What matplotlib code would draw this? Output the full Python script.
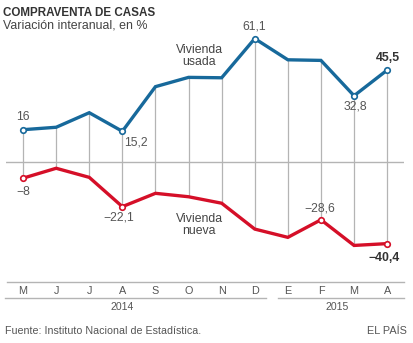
import matplotlib
matplotlib.use("Agg")
import matplotlib.pyplot as plt
import matplotlib.transforms as mtransforms

plt.rcParams['font.family'] = ['Liberation Sans', 'DejaVu Sans']

months = ["M", "J", "J", "A", "S", "O", "N", "D", "E", "F", "M", "A"]
years = ["2014", "2015"]
usada = [16.0, 17.2, 24.4, 15.2, 37.3, 41.9, 41.7, 61.1, 50.6, 50.3, 32.8, 45.5]
nueva = [-8.0, -3.1, -7.6, -22.1, -15.5, -17.2, -20.4, -33.2, -37.3, -28.6, -41.3, -40.4]

BLUE = "#17699b"
RED = "#d50f28"
GRAY_TXT = "#555555"
GRID = "#b4b4b4"

W, H = 414, 343
fig = plt.figure(figsize=(W / 100, H / 100), dpi=100)

def fx(px):
    return px / W

def fy(py):
    return 1 - py / H

ax = fig.add_axes([fx(6.5), fy(282), fx(403.7 - 6.5), fy(20) - fy(282)])
x = list(range(len(months)))
ax.set_xlim(-0.5, len(months) - 0.5)
ax.set_ylim(-59.4, 70.3)

# vertical connectors
ax.vlines(x, nueva, usada, color=GRID, lw=0.9, zorder=1)
ax.axhline(0, color=GRID, lw=1.0, zorder=1)

ax.plot(x, usada, color=BLUE, lw=2.4, solid_joinstyle='miter', zorder=3)
ax.plot(x, nueva, color=RED, lw=2.4, solid_joinstyle='miter', zorder=3)

mk_u = [0, 3, 7, 10, 11]
mk_n = [0, 3, 9, 11]
ax.plot([x[i] for i in mk_u], [usada[i] for i in mk_u], 'o', ms=4, mfc='white',
        mec=BLUE, mew=1.2, ls='none', zorder=4)
ax.plot([x[i] for i in mk_n], [nueva[i] for i in mk_n], 'o', ms=4, mfc='white',
        mec=RED, mew=1.2, ls='none', zorder=4)

def fmt(v):
    s = ("%g" % abs(v)).replace(".", ",")
    return ("\u2212" + s) if v < 0 else s

LFS = 8.8

def lab(i, vals, dx, dy, ha='center', bold=False):
    ax.annotate(fmt(vals[i]), (x[i], vals[i]), xytext=(dx * 0.72, dy * 0.72),
                textcoords='offset points', ha=ha, va='center', fontsize=LFS,
                color='#333333' if bold else GRAY_TXT,
                fontweight='bold' if bold else 'normal', zorder=5)

lab(0, usada, 0, 13)
lab(3, usada, 2, -11, ha='left')
lab(7, usada, -1, 12)
lab(10, usada, 1, -11)
lab(11, usada, 1, 12, bold=True)
lab(0, nueva, 0, -14)
lab(3, nueva, -4, -11)
lab(9, nueva, -1, 11)
lab(11, nueva, -3, -14, bold=True)

ax.text(5.32, 52.5, "Vivienda\nusada", ha='center', va='center', fontsize=LFS,
        color='#444444', linespacing=1.05, zorder=5)
ax.text(5.32, -31.2, "Vivienda\nnueva", ha='center', va='center', fontsize=LFS,
        color='#444444', linespacing=1.05, zorder=5)

# axes styling
for s in ['top', 'right', 'left']:
    ax.spines[s].set_visible(False)
ax.spines['bottom'].set_color(GRID)
ax.spines['bottom'].set_linewidth(1.0)
ax.set_yticks([])
ax.set_xticks(x)
ax.set_xticklabels(months, fontsize=7.8, color=GRAY_TXT)
ax.tick_params(axis='x', length=0, pad=3)

# year brackets
trans = mtransforms.blended_transform_factory(ax.transData, fig.transFigure)
yl = fy(297.7)
ax.plot([-0.55, 7.35], [yl, yl], transform=trans, color=GRID, lw=1.0, clip_on=False)
ax.plot([7.7, 11.5], [yl, yl], transform=trans, color=GRID, lw=1.0, clip_on=False)
ax.text(3.0, fy(307.5), years[0], transform=trans, ha='center', va='center',
        fontsize=7.6, color=GRAY_TXT)
ax.text(9.5, fy(307.5), years[1], transform=trans, ha='center', va='center',
        fontsize=7.6, color=GRAY_TXT)

fig.text(fx(3), fy(12.5), "COMPRAVENTA DE CASAS", ha='left', va='center',
         fontsize=8.4, fontweight='bold', color='#333333')
fig.text(fx(3), fy(26), "Variación interanual, en %", ha='left', va='center',
         fontsize=8.9, color='#444444')
fig.text(fx(5), fy(331), "Fuente: Instituto Nacional de Estadística.", ha='left',
         va='center', fontsize=7.7, color=GRAY_TXT)
fig.text(fx(407), fy(331), "EL PAÍS", ha='right', va='center', fontsize=7.8,
         color=GRAY_TXT)

fig.savefig("out.png", dpi=100)
